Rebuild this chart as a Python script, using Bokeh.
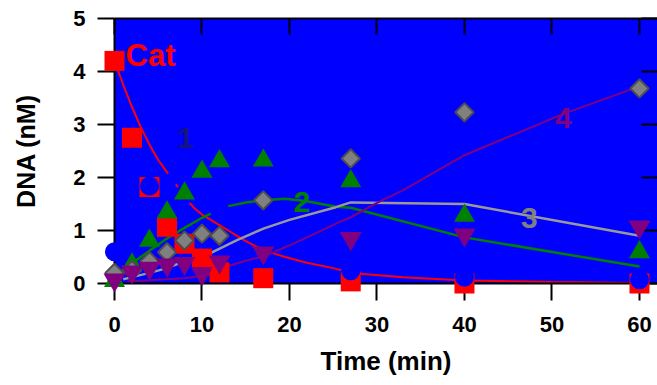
import numpy as np
from bokeh.plotting import figure
from bokeh.models import Range1d, LinearAxis, FixedTicker, Label, CustomJSTickFormatter
from bokeh.embed import file_html
from bokeh.resources import INLINE

nan = float("nan")

# ---- data ----
time = [0, 2, 4, 6, 8, 10, 12, 17, 27, 40, 60]
cat_dna = [4.2, 2.75, 1.82, 1.07, 0.75, 0.47, 0.21, 0.10, 0.04, 0.0, 0.0]
s2_dna = [0.05, 0.36, 0.81, 1.34, 1.70, 2.11, 2.31, 2.32, 1.93, 1.28, 0.59]
s3_dna = [0.2, 0.25, 0.42, 0.59, 0.81, 0.94, 0.90, 1.57, 2.36, 3.23, 3.68]
s4_dna = [0.07, 0.22, 0.29, 0.35, 0.38, 0.19, 0.41, 0.58, 0.85, 0.92, 1.07]

s1_time = [0, 4, 27, 40, 60]
s1_dna = [0.6, 1.84, 0.24, 0.12, 0.07]

# model curves (gaps where hidden in the original)
cat_fit_t = [0, 1, 2, 3, 4, 5, 6, 6.1, nan, 7.0, 7.25, nan, 8.6, 9, 10, 11, 12, 13, 14, 15, 17,
             19.5, 22, 25, 27, 33, 40, 50, 60]
cat_fit_y = [4.2, 3.75, 3.33, 2.95, 2.62, 2.33, 2.1, 2.07, nan, 1.87, 1.82, nan, 1.52, 1.44, 1.3,
             1.2, 1.1, 1.0, 0.9, 0.8, 0.63, 0.5, 0.39, 0.29, 0.2, 0.12, 0.056, 0.03, 0.01]
s2_fit_t = [2, 4, 6, 8, 10, 11, nan, 13, 15, 17, 19.5, 22, 25.3, 27, 40, 60]
s2_fit_y = [0.38, 0.62, 0.85, 1.05, 1.24, 1.32, nan, 1.46, 1.53, 1.57, 1.6, 1.55, 1.45, 1.43, 0.87, 0.32]
s3_fit_t = [1, 2, 4, 6, 8, 10, 11.2, 14, 17.1, 20, 25.3, 27, 40, 60]
s3_fit_y = [0.08, 0.12, 0.2, 0.29, 0.42, 0.52, 0.59, 0.82, 1.04, 1.2, 1.44, 1.53, 1.5, 0.9]
s4_fit_t = [1.5, 4, 8, 10, 11, 13, 15, 17, 20, 22, 25.3, 27, 30, 33, 40, 51.3, 60]
s4_fit_y = [0.04, 0.06, 0.1, 0.14, 0.18, 0.33, 0.43, 0.51, 0.72, 0.87, 1.13, 1.25, 1.52, 1.76, 2.42, 3.2, 3.72]

x_ticks = [0, 10, 20, 30, 40, 50, 60]
y_ticks = [0, 1, 2, 3, 4, 5]

RED = "#FF0000"
BLUE = "#0000FF"
GREEN = "#008000"
GRAY = "#808080"
PURPLE = "#800080"
FONT = "Liberation Sans"

p = figure(width=657, height=385, output_backend="svg", toolbar_location=None,
           x_range=Range1d(0, 62.06), y_range=Range1d(0, 5),
           min_border_left=114, min_border_top=18, min_border_bottom=102, min_border_right=0)
p.background_fill_color = BLUE
p.border_fill_color = "white"
p.outline_line_color = None
p.xgrid.grid_line_color = None
p.ygrid.grid_line_color = None

def style_axis(ax, ticks, tin, tout, show_labels, standoff=12):
    ax.ticker = FixedTicker(ticks=ticks)
    ax.minor_tick_line_color = None
    ax.axis_line_width = 2
    ax.axis_line_color = "black"
    ax.major_tick_line_width = 2
    ax.major_tick_line_color = "black"
    ax.major_tick_in = tin
    ax.major_tick_out = tout
    if show_labels:
        ax.major_label_text_font = FONT
        ax.major_label_text_font_style = "bold"
        ax.major_label_text_font_size = "22px"
        ax.major_label_text_color = "black"
        ax.major_label_standoff = standoff
    else:
        ax.formatter = CustomJSTickFormatter(code="return ''")
        ax.major_label_standoff = 0

xa = p.xaxis[0]
ya = p.yaxis[0]
style_axis(xa, x_ticks, 0, 17, True, standoff=16)
style_axis(ya, y_ticks, 0, 17, True, standoff=12)
xa.axis_label = "Time (min)"
ya.axis_label = "DNA (nM)"
for ax, sz in ((xa, "26px"), (ya, "25px")):
    ax.axis_label_text_font = FONT
    ax.axis_label_text_font_style = "bold"
    ax.axis_label_text_font_size = sz
    ax.axis_label_text_color = "black"
xa.axis_label_standoff = 11
ya.axis_label_standoff = 30

top = LinearAxis()
style_axis(top, x_ticks, 16, 0, False)
p.add_layout(top, "above")
right = LinearAxis()
style_axis(right, y_ticks, 16, 0, False)
right.axis_line_color = None
p.add_layout(right, "right")

# lines
p.line(cat_fit_t, cat_fit_y, line_color=RED, line_width=2)
p.line(s2_fit_t, s2_fit_y, line_color=GREEN, line_width=2.5)
p.line(s3_fit_t, s3_fit_y, line_color="#999999", line_width=2.5)
p.line(s4_fit_t, s4_fit_y, line_color=PURPLE, line_width=2)

# markers (drawn unclipped, over the axes, as in the original)
p.scatter(time, cat_dna, marker="square", size=20, fill_color=RED, line_color=None, level="overlay")
p.scatter(s1_time, s1_dna, marker="circle", size=19, fill_color=BLUE, line_color=None, level="overlay")
p.scatter(time, s2_dna, marker="triangle", size=21, fill_color=GREEN, line_color=None, level="overlay")
p.scatter(time, s3_dna, marker="square", angle=np.pi / 4, size=13, fill_color=GRAY,
          line_color="#4d4d4d", line_width=2, level="overlay")
p.scatter(time, s4_dna, marker="inverted_triangle", size=22, fill_color=PURPLE, line_color=None,
          level="overlay")

def add_label(x, y, text, color, size, align="left"):
    p.add_layout(Label(x=x, y=y, text=text, text_color=color, text_font=FONT,
                       text_font_style="bold", text_font_size=size,
                       text_align=align, text_baseline="alphabetic"))

add_label(1.26, 4.3, "Cat", RED, "31px")
add_label(8.1, 2.74, "1", "#141482", "30px", "center")
add_label(21.4, 1.53, "2", GREEN, "30px", "center")
add_label(47.4, 1.245, "3", GRAY, "30px", "center")
add_label(51.3, 3.13, "4", PURPLE, "30px", "center")
add_label(-11.1, -2.28, "D", "black", "36px")

open("out.html", "w").write(file_html(p, INLINE))
